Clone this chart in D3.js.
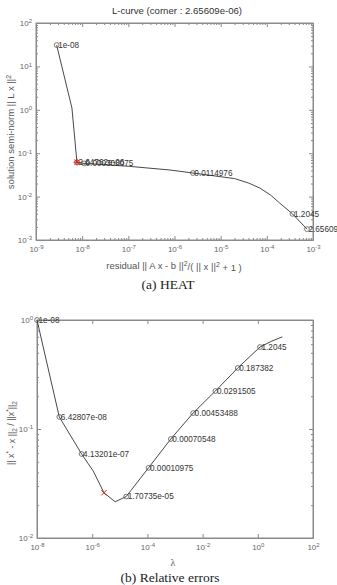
<!DOCTYPE html>
<html>
<head>
<meta charset="utf-8">
<script src="https://cdn.jsdelivr.net/npm/d3@7"></script>
<style>
  body { margin: 0; background: #fff; }
  svg { font-family: "Liberation Sans", Arial, sans-serif; }
  .axis path, .axis line { stroke: #8a8a8a; }
  .axis text { fill: #666; font-size: 8px; }
</style>
</head>
<body>
<script>
// Panel (a): L-curve, residual vs semi-norm
const lcResidual = [2.8e-9, 6e-9, 7.7e-9, 1.1e-8, 1.0e-7, 8e-7, 2.5e-6, 2.0e-5, 4e-5, 7e-5, 1.2e-4, 1.9e-4, 3.6e-4, 7.4e-4];
const lcNorm = [31, 1.1, 0.062, 0.058, 0.050, 0.041, 0.035, 0.026, 0.0206, 0.0158, 0.0109, 0.0071, 0.0040, 0.00178];
const lcMarked = [0, 2, 3, 6, 12, 13];
const lcLabels = ["1e-08", "2.64762e-06", "0.000308075", "0.0114976", "1.2045", "2.65609"];
const lcCorner = 2;

// Panel (b): relative errors vs lambda
const lambda = [1e-8, 6.42807e-8, 4.13201e-7, 1.1e-6, 2.65609e-6, 6.8e-6, 1.70735e-5, 1.0975e-4, 7.0548e-4, 4.53488e-3, 2.91505e-2, 0.187382, 1.2045, 3.2, 7.74264];
const relErr = [1.0, 0.129, 0.059, 0.041, 0.026, 0.0215, 0.024, 0.044, 0.081, 0.140, 0.223, 0.363, 0.565, 0.64, 0.70];
const reMarked = [0, 1, 2, 6, 7, 8, 9, 10, 11, 12];
const reLabels = ["1e-08", "6.42807e-08", "4.13201e-07", "1.70735e-05", "0.00010975", "0.00070548", "0.00453488", "0.0291505", "0.187382", "1.2045"];
const reBest = 4;

const xTicksB = [1e-8, 1e-6, 1e-4, 1e-2, 1, 1e2];

const svg = d3.select("body").append("svg")
  .attr("width", 337)
  .attr("height", 585);

const isMajor = v => Math.abs(Math.log10(v) - Math.round(Math.log10(v))) < 1e-6;

function powLabel(v) {
  const t = d3.select(this);
  if (!isMajor(v)) { t.text(""); return; }
  const e = Math.round(Math.log10(v));
  t.text(null);
  t.append("tspan").text("10");
  t.append("tspan").attr("dy", "-0.45em").attr("font-size", "6px").text(String(e));
}

function panel(cfg) {
  const { left, right, top, bottom } = cfg;
  const x = d3.scaleLog().domain(cfg.xDomain).range([left, right]);
  const y = d3.scaleLog().domain(cfg.yDomain).range([bottom, top]);
  const xt = cfg.xTicks || x.ticks();
  const yt = y.ticks();

  const g = svg.append("g");

  // box
  g.append("rect")
    .attr("x", left).attr("y", top)
    .attr("width", right - left).attr("height", bottom - top)
    .attr("fill", "none").attr("stroke", "#8a8a8a").attr("stroke-width", 1);

  const tickLen = (sel, major, minor) =>
    sel.selectAll(".tick line").each(function(d) {
      const l = d3.select(this);
      const s = isMajor(d) ? major : minor;
      if (l.attr("x2") !== null && +l.attr("x2") !== 0) l.attr("x2", s);
      else l.attr("y2", s);
    });

  // bottom axis
  const xb = g.append("g").attr("class", "axis")
    .attr("transform", `translate(0,${bottom})`)
    .call(d3.axisBottom(x).tickValues(xt).tickSizeInner(-4).tickSizeOuter(0).tickPadding(6).tickFormat(() => ""));
  xb.call(s => tickLen(s, -4, -2));
  xb.selectAll(".tick text").each(powLabel);

  // top mirror
  const xtop = g.append("g").attr("class", "axis")
    .attr("transform", `translate(0,${top})`)
    .call(d3.axisTop(x).tickValues(xt).tickSizeInner(-4).tickSizeOuter(0).tickFormat(""));
  xtop.call(s => tickLen(s, 4, 2));

  // left axis
  const yl = g.append("g").attr("class", "axis")
    .attr("transform", `translate(${left},0)`)
    .call(d3.axisLeft(y).tickValues(yt).tickSizeInner(-4).tickSizeOuter(0).tickPadding(4).tickFormat(() => ""));
  yl.call(s => tickLen(s, 4, 2));
  yl.selectAll(".tick text").each(powLabel);

  // right mirror
  const yr = g.append("g").attr("class", "axis")
    .attr("transform", `translate(${right},0)`)
    .call(d3.axisRight(y).tickValues(yt).tickSizeInner(-4).tickSizeOuter(0).tickFormat(""));
  yr.call(s => tickLen(s, -4, -2));

  g.selectAll(".axis .domain").attr("stroke", "#8a8a8a");

  // curve
  const pts = cfg.xs.map((v, i) => [v, cfg.ys[i]]);
  g.append("path")
    .datum(pts)
    .attr("fill", "none")
    .attr("stroke", "#333")
    .attr("stroke-width", 0.9)
    .attr("d", d3.line().x(d => x(d[0])).y(d => y(d[1])));

  // markers and labels
  const marks = cfg.marked.map((idx, k) => ({ px: x(pts[idx][0]), py: y(pts[idx][1]), label: cfg.labels[k] }));
  g.selectAll("circle.m").data(marks).join("circle")
    .attr("class", "m")
    .attr("cx", d => d.px).attr("cy", d => d.py).attr("r", 2.4)
    .attr("fill", "none").attr("stroke", "#444").attr("stroke-width", 0.7);
  g.selectAll("text.lab").data(marks).join("text")
    .attr("class", "lab")
    .attr("x", d => d.px + 1.5).attr("y", d => d.py + 2.8)
    .attr("font-size", "8.2px").attr("fill", "#333")
    .text(d => d.label);

  // highlighted point in red
  const hx = x(pts[cfg.highlight][0]), hy = y(pts[cfg.highlight][1]);
  const r = 2.6;
  let dpath = `M${hx - r},${hy - r}L${hx + r},${hy + r}M${hx - r},${hy + r}L${hx + r},${hy - r}`;
  if (cfg.star) dpath += `M${hx - r * 1.3},${hy}L${hx + r * 1.3},${hy}M${hx},${hy - r * 1.3}L${hx},${hy + r * 1.3}`;
  g.append("path").attr("d", dpath).attr("stroke", "#e0201a").attr("stroke-width", 1).attr("fill", "none");

  return g;
}

// ---- panel (a)
const ga = panel({
  left: 36, right: 313, top: 23, bottom: 240,
  xDomain: [1e-9, 1e-3], yDomain: [1e-3, 1e2],
  xs: lcResidual, ys: lcNorm, marked: lcMarked, labels: lcLabels,
  highlight: lcCorner, star: true
});

ga.append("text")
  .attr("x", 177).attr("y", 14)
  .attr("text-anchor", "middle").attr("font-size", "9.6px").attr("fill", "#333")
  .text("L-curve (corner : 2.65609e-06)");

const xla = ga.append("text")
  .attr("x", 174).attr("y", 269)
  .attr("text-anchor", "middle").attr("font-size", "9.5px").attr("fill", "#555");
xla.append("tspan").text("residual || A x - b ||");
xla.append("tspan").attr("dy", "-0.45em").attr("font-size", "7px").text("2");
xla.append("tspan").attr("dy", "0.45em").text("/( || x ||");
xla.append("tspan").attr("dy", "-0.45em").attr("font-size", "7px").text("2");
xla.append("tspan").attr("dy", "0.45em").text(" + 1 )");

const yla = ga.append("text")
  .attr("transform", "translate(14,132) rotate(-90)")
  .attr("text-anchor", "middle").attr("font-size", "9.5px").attr("fill", "#555");
yla.append("tspan").text("solution semi-norm || L x ||");
yla.append("tspan").attr("dy", "-0.45em").attr("font-size", "7px").text("2");

svg.append("text")
  .attr("x", 168).attr("y", 289)
  .attr("text-anchor", "middle").attr("font-size", "13.5px").attr("fill", "#222")
  .attr("font-family", "'Liberation Serif', 'DejaVu Serif', serif")
  .text("(a)  HEAT");

// ---- panel (b)
const gb = panel({
  left: 37, right: 313, top: 320, bottom: 538,
  xDomain: [1e-8, 1e2], yDomain: [1e-2, 1],
  xTicks: xTicksB,
  xs: lambda, ys: relErr, marked: reMarked, labels: reLabels,
  highlight: reBest, star: false
});

gb.append("text")
  .attr("x", 173).attr("y", 566)
  .attr("text-anchor", "middle").attr("font-size", "10px").attr("fill", "#555")
  .attr("font-family", "'Liberation Serif', 'DejaVu Serif', serif")
  .text("λ");

const ylb = gb.append("text")
  .attr("transform", "translate(14,433) rotate(-90)")
  .attr("text-anchor", "middle").attr("font-size", "8.8px").attr("fill", "#555");
ylb.append("tspan").text("|| x");
ylb.append("tspan").attr("dy", "-0.45em").attr("font-size", "6.5px").text("*");
ylb.append("tspan").attr("dy", "0.45em").text(" - x ||");
ylb.append("tspan").attr("dy", "0.3em").attr("font-size", "6.5px").text("2");
ylb.append("tspan").attr("dy", "-0.3em").text(" / ||x");
ylb.append("tspan").attr("dy", "-0.45em").attr("font-size", "6.5px").text("*");
ylb.append("tspan").attr("dy", "0.45em").text("||");
ylb.append("tspan").attr("dy", "0.3em").attr("font-size", "6.5px").text("2");

svg.append("text")
  .attr("x", 170).attr("y", 582)
  .attr("text-anchor", "middle").attr("font-size", "13.5px").attr("fill", "#222")
  .attr("font-family", "'Liberation Serif', 'DejaVu Serif', serif")
  .text("(b)  Relative errors");
</script>
</body>
</html>
